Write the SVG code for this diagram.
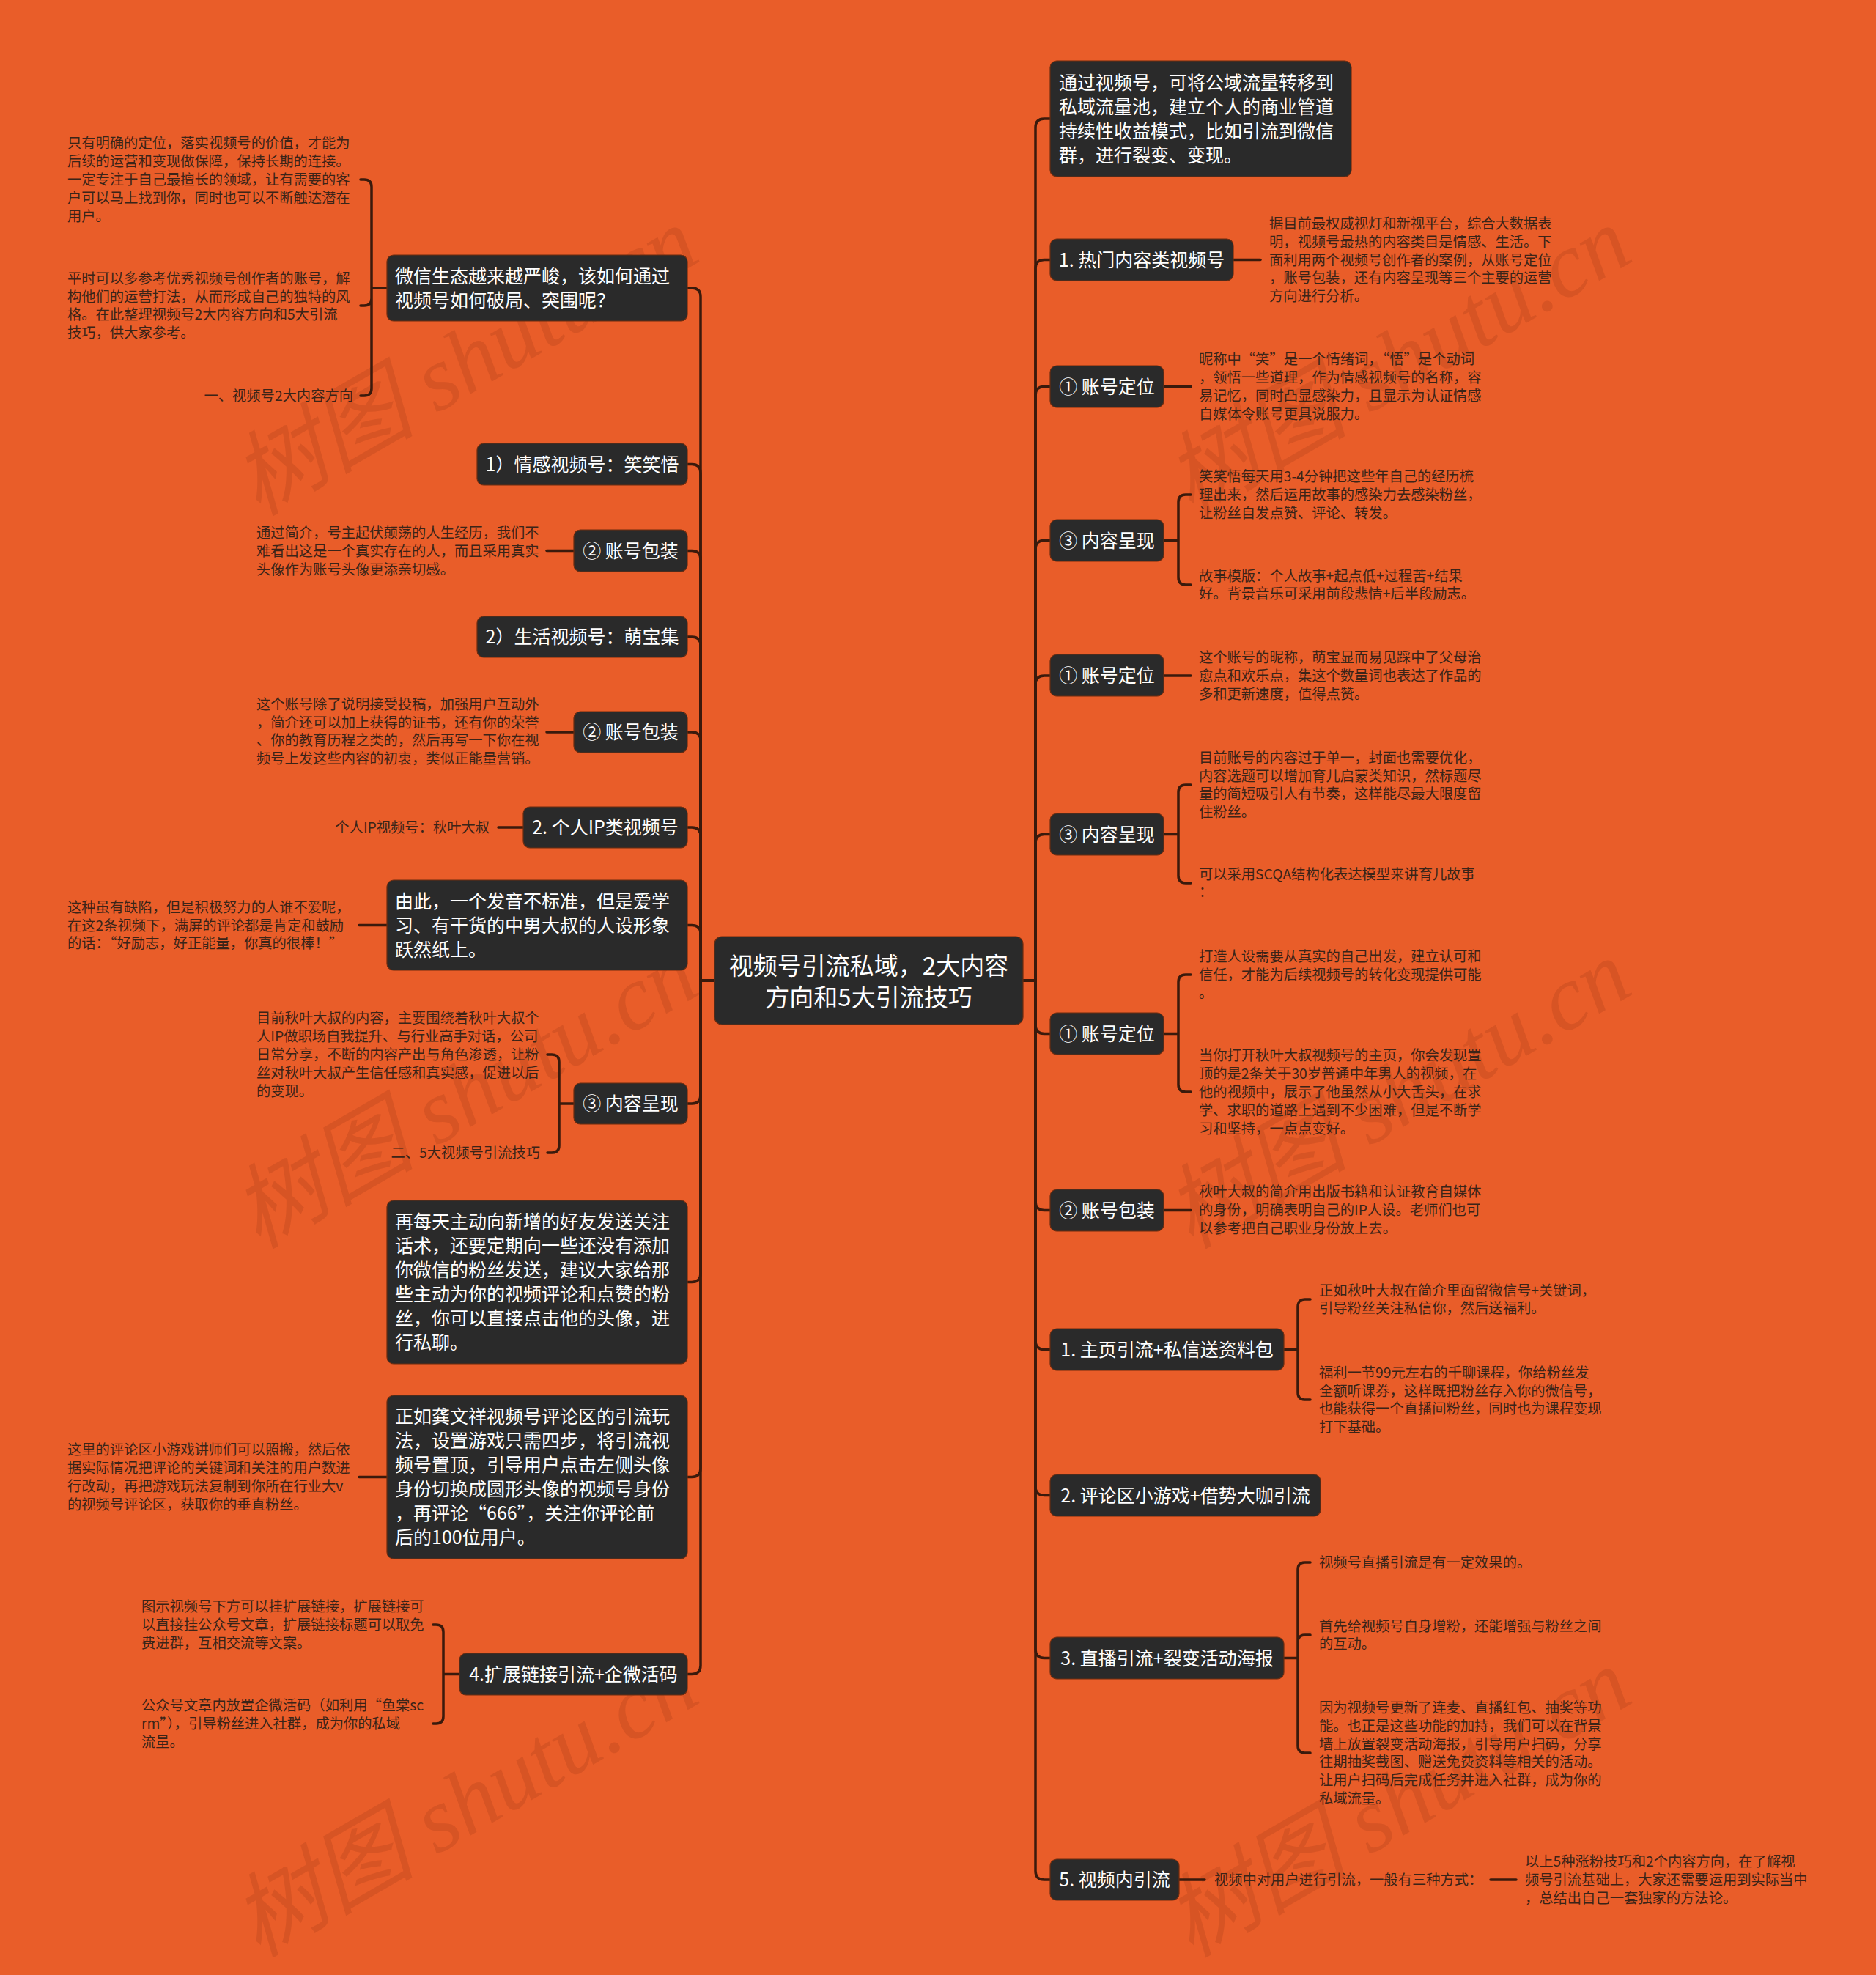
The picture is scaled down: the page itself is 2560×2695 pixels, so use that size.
<svg xmlns="http://www.w3.org/2000/svg" width="2560" height="2695" viewBox="0 0 2560 2695">
<style>
text{font-family:"Noto Sans CJK SC","Noto Sans",sans-serif}
.bg{fill:#E95D29}
.nd{fill:#2A2A2A;stroke:#6B2C10;stroke-width:1.2}
.nt{fill:#FFFFFF;font-size:25px}
.nc{text-anchor:middle}
.ct{fill:#FFFFFF;font-size:33px;text-anchor:middle}
.lt{fill:#3B2418;font-size:19.3px}
.le{text-anchor:end}
.cn{fill:none;stroke:#3A1A0C;stroke-width:3.5;stroke-linecap:round}
.wm{font-family:"Liberation Serif","Noto Sans CJK SC",serif;font-style:italic;font-size:125px;fill:#A83E18;fill-opacity:0.28}
</style>
<rect class="bg" x="0" y="0" width="2560" height="2695"/>
<g id="watermarks">
<text class="wm" transform="translate(352,705) rotate(-30)">树图 shutu.cn</text>
<text class="wm" transform="translate(1625,705) rotate(-30)">树图 shutu.cn</text>
<text class="wm" transform="translate(352,1705) rotate(-30)">树图 shutu.cn</text>
<text class="wm" transform="translate(1625,1705) rotate(-30)">树图 shutu.cn</text>
<text class="wm" transform="translate(352,2672) rotate(-30)">树图 shutu.cn</text>
<text class="wm" transform="translate(1625,2672) rotate(-30)">树图 shutu.cn</text>
</g>
<g id="connectors" class="cn">
<path d="M975,1338 H956 V405 Q956,393 944,393 H938"/>
<path d="M975,1338 H956 V645.5 Q956,633.5 944,633.5 H938"/>
<path d="M975,1338 H956 V763.5 Q956,751.5 944,751.5 H938"/>
<path d="M975,1338 H956 V881 Q956,869 944,869 H938"/>
<path d="M975,1338 H956 V1011 Q956,999 944,999 H938"/>
<path d="M975,1338 H956 V1141 Q956,1129 944,1129 H938"/>
<path d="M975,1338 H956 V1274.5 Q956,1262.5 944,1262.5 H938"/>
<path d="M975,1338 H956 V1494 Q956,1506 944,1506 H938"/>
<path d="M975,1338 H956 V1737.5 Q956,1749.5 944,1749.5 H938"/>
<path d="M975,1338 H956 V2003.5 Q956,2015.5 944,2015.5 H938"/>
<path d="M975,1338 H956 V2272.5 Q956,2284.5 944,2284.5 H938"/>
<path d="M1396,1338 H1413 V174 Q1413,162 1425,162 H1433"/>
<path d="M1396,1338 H1413 V366.5 Q1413,354.5 1425,354.5 H1433"/>
<path d="M1396,1338 H1413 V539.5 Q1413,527.5 1425,527.5 H1433"/>
<path d="M1396,1338 H1413 V749.5 Q1413,737.5 1425,737.5 H1433"/>
<path d="M1396,1338 H1413 V934 Q1413,922 1425,922 H1433"/>
<path d="M1396,1338 H1413 V1150.5 Q1413,1138.5 1425,1138.5 H1433"/>
<path d="M1396,1338 H1413 V1398.5 Q1413,1410.5 1425,1410.5 H1433"/>
<path d="M1396,1338 H1413 V1639.5 Q1413,1651.5 1425,1651.5 H1433"/>
<path d="M1396,1338 H1413 V1829.5 Q1413,1841.5 1425,1841.5 H1433"/>
<path d="M1396,1338 H1413 V2028.5 Q1413,2040.5 1425,2040.5 H1433"/>
<path d="M1396,1338 H1413 V2250.5 Q1413,2262.5 1425,2262.5 H1433"/>
<path d="M1396,1338 H1413 V2553 Q1413,2565 1425,2565 H1433"/>
<path d="M528,393 H507 M507,393 V255 Q507,245 497,245 H492 M507,393 V407 Q507,417 497,417 H492 M507,393 V530 Q507,540 497,540 H492"/>
<path d="M783,1506 H763 M763,1506 V1449 Q763,1439 753,1439 H747 M763,1506 V1563 Q763,1573 753,1573 H747"/>
<path d="M627,2284.5 H605 M605,2284.5 V2227 Q605,2217 595,2217 H591 M605,2284.5 V2342 Q605,2352 595,2352 H591"/>
<path d="M1588,737.5 H1608 M1608,737.5 V685 Q1608,675 1618,675 H1625 M1608,737.5 V788 Q1608,798 1618,798 H1625"/>
<path d="M1588,1138.5 H1608 M1608,1138.5 V1081 Q1608,1071 1618,1071 H1625 M1608,1138.5 V1195 Q1608,1205 1618,1205 H1625"/>
<path d="M1588,1410.5 H1608 M1608,1410.5 V1340 Q1608,1330 1618,1330 H1625 M1608,1410.5 V1480 Q1608,1490 1618,1490 H1625"/>
<path d="M1752,1841.5 H1771 M1771,1841.5 V1783 Q1771,1773 1781,1773 H1788 M1771,1841.5 V1900 Q1771,1910 1781,1910 H1788"/>
<path d="M1752,2262.5 H1771 M1771,2262.5 V2142 Q1771,2132 1781,2132 H1788 M1771,2262.5 V2241 Q1771,2231 1781,2231 H1788 M1771,2262.5 V2382 Q1771,2392 1781,2392 H1788"/>
<path d="M783,751.5 H746"/>
<path d="M783,999 H746"/>
<path d="M714,1129 H680"/>
<path d="M528,1262.5 H490"/>
<path d="M528,2015.5 H490"/>
<path d="M1683,354.5 H1720"/>
<path d="M1588,527.5 H1625"/>
<path d="M1588,922 H1625"/>
<path d="M1588,1651.5 H1625"/>
<path d="M1609,2565 H1644"/>
<path d="M2034,2565 H2069"/>
</g>
<g id="center">
<rect class="nd" x="975" y="1278" width="421" height="120" rx="10"/>
<text class="ct"><tspan x="1185.5" y="1330">视频号引流私域，2大内容</tspan><tspan x="1185.5" y="1373">方向和5大引流技巧</tspan></text>
</g>
<g id="n-l1">
<rect class="nd" x="528" y="348" width="410" height="90" rx="9"/>
<text class="nt"><tspan x="539" y="385.5">微信生态越来越严峻，该如何通过</tspan><tspan x="539" y="418.5">视频号如何破局、突围呢？</tspan></text>
</g>
<g id="leaf-l1a"><text class="lt"><tspan x="92" y="202.4">只有明确的定位，落实视频号的价值，才能为</tspan><tspan x="92" y="227.2">后续的运营和变现做保障，保持长期的连接。</tspan><tspan x="92" y="252">一定专注于自己最擅长的领域，让有需要的客</tspan><tspan x="92" y="276.8">户可以马上找到你，同时也可以不断触达潜在</tspan><tspan x="92" y="301.6">用户。</tspan></text></g>
<g id="leaf-l1b"><text class="lt"><tspan x="92" y="386.8">平时可以多参考优秀视频号创作者的账号，解</tspan><tspan x="92" y="411.6">构他们的运营打法，从而形成自己的独特的风</tspan><tspan x="92" y="436.4">格。在此整理视频号2大内容方向和5大引流</tspan><tspan x="92" y="461.2">技巧，供大家参考。</tspan></text></g>
<g id="leaf-l1c"><text class="lt le" x="482" y="547">一、视频号2大内容方向</text></g>
<g id="n-l2">
<rect class="nd" x="651" y="605" width="287" height="57" rx="9"/>
<text class="nt nc" x="794.5" y="642.5">1）情感视频号：笑笑悟</text>
</g>
<g id="n-l3">
<rect class="nd" x="783" y="723" width="155" height="57" rx="9"/>
<text class="nt nc" x="860.5" y="760.5">② 账号包装</text>
</g>
<g id="leaf-l3"><text class="lt"><tspan x="350" y="734.2">通过简介，号主起伏颠荡的人生经历，我们不</tspan><tspan x="350" y="759">难看出这是一个真实存在的人，而且采用真实</tspan><tspan x="350" y="783.8">头像作为账号头像更添亲切感。</tspan></text></g>
<g id="n-l4">
<rect class="nd" x="651" y="841" width="287" height="56" rx="9"/>
<text class="nt nc" x="794.5" y="878">2）生活视频号：萌宝集</text>
</g>
<g id="n-l5">
<rect class="nd" x="783" y="971" width="155" height="56" rx="9"/>
<text class="nt nc" x="860.5" y="1008">② 账号包装</text>
</g>
<g id="leaf-l5"><text class="lt"><tspan x="350" y="967.8">这个账号除了说明接受投稿，加强用户互动外</tspan><tspan x="350" y="992.6">，简介还可以加上获得的证书，还有你的荣誉</tspan><tspan x="350" y="1017.4">、你的教育历程之类的，然后再写一下你在视</tspan><tspan x="350" y="1042.2">频号上发这些内容的初衷，类似正能量营销。</tspan></text></g>
<g id="n-l6">
<rect class="nd" x="714" y="1101" width="224" height="56" rx="9"/>
<text class="nt nc" x="826" y="1138">2. 个人IP类视频号</text>
</g>
<g id="leaf-l6"><text class="lt le" x="668" y="1136">个人IP视频号：秋叶大叔</text></g>
<g id="n-l7">
<rect class="nd" x="528" y="1201" width="410" height="123" rx="9"/>
<text class="nt"><tspan x="539" y="1238.5">由此，一个发音不标准，但是爱学</tspan><tspan x="539" y="1271.5">习、有干货的中男大叔的人设形象</tspan><tspan x="539" y="1304.5">跃然纸上。</tspan></text>
</g>
<g id="leaf-l7"><text class="lt"><tspan x="92" y="1244.7">这种虽有缺陷，但是积极努力的人谁不爱呢，</tspan><tspan x="92" y="1269.5">在这2条视频下，满屏的评论都是肯定和鼓励</tspan><tspan x="92" y="1294.3">的话：“好励志，好正能量，你真的很棒！”</tspan></text></g>
<g id="n-l8">
<rect class="nd" x="783" y="1478" width="155" height="56" rx="9"/>
<text class="nt nc" x="860.5" y="1515">③ 内容呈现</text>
</g>
<g id="leaf-l8a"><text class="lt"><tspan x="350" y="1396.4">目前秋叶大叔的内容，主要围绕着秋叶大叔个</tspan><tspan x="350" y="1421.2">人IP做职场自我提升、与行业高手对话，公司</tspan><tspan x="350" y="1446">日常分享，不断的内容产出与角色渗透，让粉</tspan><tspan x="350" y="1470.8">丝对秋叶大叔产生信任感和真实感，促进以后</tspan><tspan x="350" y="1495.6">的变现。</tspan></text></g>
<g id="leaf-l8b"><text class="lt le" x="737" y="1580">二、5大视频号引流技巧</text></g>
<g id="n-l9">
<rect class="nd" x="528" y="1638" width="410" height="223" rx="9"/>
<text class="nt"><tspan x="539" y="1676">再每天主动向新增的好友发送关注</tspan><tspan x="539" y="1709">话术，还要定期向一些还没有添加</tspan><tspan x="539" y="1742">你微信的粉丝发送，建议大家给那</tspan><tspan x="539" y="1775">些主动为你的视频评论和点赞的粉</tspan><tspan x="539" y="1808">丝，你可以直接点击他的头像，进</tspan><tspan x="539" y="1841">行私聊。</tspan></text>
</g>
<g id="n-l10">
<rect class="nd" x="528" y="1904" width="410" height="223" rx="9"/>
<text class="nt"><tspan x="539" y="1942">正如龚文祥视频号评论区的引流玩</tspan><tspan x="539" y="1975">法，设置游戏只需四步，将引流视</tspan><tspan x="539" y="2008">频号置顶，引导用户点击左侧头像</tspan><tspan x="539" y="2041">身份切换成圆形头像的视频号身份</tspan><tspan x="539" y="2074">，再评论“666”，关注你评论前</tspan><tspan x="539" y="2107">后的100位用户。</tspan></text>
</g>
<g id="leaf-l10"><text class="lt"><tspan x="92" y="1985.3">这里的评论区小游戏讲师们可以照搬，然后依</tspan><tspan x="92" y="2010.1">据实际情况把评论的关键词和关注的用户数进</tspan><tspan x="92" y="2034.9">行改动，再把游戏玩法复制到你所在行业大v</tspan><tspan x="92" y="2059.7">的视频号评论区，获取你的垂直粉丝。</tspan></text></g>
<g id="n-l11">
<rect class="nd" x="627" y="2256" width="311" height="57" rx="9"/>
<text class="nt nc" x="782.5" y="2293.5">4.扩展链接引流+企微活码</text>
</g>
<g id="leaf-l11a"><text class="lt"><tspan x="193" y="2199.2">图示视频号下方可以挂扩展链接，扩展链接可</tspan><tspan x="193" y="2224">以直接挂公众号文章，扩展链接标题可以取免</tspan><tspan x="193" y="2248.8">费进群，互相交流等文案。</tspan></text></g>
<g id="leaf-l11b"><text class="lt"><tspan x="193" y="2334.2">公众号文章内放置企微活码（如利用“鱼棠sc</tspan><tspan x="193" y="2359">rm”），引导粉丝进入社群，成为你的私域</tspan><tspan x="193" y="2383.8">流量。</tspan></text></g>
<g id="n-r1">
<rect class="nd" x="1433" y="83" width="411" height="158" rx="9"/>
<text class="nt"><tspan x="1445" y="121.5">通过视频号，可将公域流量转移到</tspan><tspan x="1445" y="154.5">私域流量池，建立个人的商业管道</tspan><tspan x="1445" y="187.5">持续性收益模式，比如引流到微信</tspan><tspan x="1445" y="220.5">群，进行裂变、变现。</tspan></text>
</g>
<g id="n-r2">
<rect class="nd" x="1433" y="326" width="250" height="57" rx="9"/>
<text class="nt nc" x="1558" y="363.5">1. 热门内容类视频号</text>
</g>
<g id="leaf-r2"><text class="lt"><tspan x="1732" y="311.9">据目前最权威视灯和新视平台，综合大数据表</tspan><tspan x="1732" y="336.7">明，视频号最热的内容类目是情感、生活。下</tspan><tspan x="1732" y="361.5">面利用两个视频号创作者的案例，从账号定位</tspan><tspan x="1732" y="386.3">，账号包装，还有内容呈现等三个主要的运营</tspan><tspan x="1732" y="411.1">方向进行分析。</tspan></text></g>
<g id="n-r3">
<rect class="nd" x="1433" y="499" width="155" height="57" rx="9"/>
<text class="nt nc" x="1510.5" y="536.5">① 账号定位</text>
</g>
<g id="leaf-r3"><text class="lt"><tspan x="1636" y="497.3">昵称中“笑”是一个情绪词，“悟”是个动词</tspan><tspan x="1636" y="522.1">，领悟一些道理，作为情感视频号的名称，容</tspan><tspan x="1636" y="546.9">易记忆，同时凸显感染力，且显示为认证情感</tspan><tspan x="1636" y="571.7">自媒体令账号更具说服力。</tspan></text></g>
<g id="n-r4">
<rect class="nd" x="1433" y="709" width="155" height="57" rx="9"/>
<text class="nt nc" x="1510.5" y="746.5">③ 内容呈现</text>
</g>
<g id="leaf-r4a"><text class="lt"><tspan x="1636" y="657.2">笑笑悟每天用3-4分钟把这些年自己的经历梳</tspan><tspan x="1636" y="682">理出来，然后运用故事的感染力去感染粉丝，</tspan><tspan x="1636" y="706.8">让粉丝自发点赞、评论、转发。</tspan></text></g>
<g id="leaf-r4b"><text class="lt"><tspan x="1636" y="792.6">故事模版：个人故事+起点低+过程苦+结果</tspan><tspan x="1636" y="817.4">好。背景音乐可采用前段悲情+后半段励志。</tspan></text></g>
<g id="n-r5">
<rect class="nd" x="1433" y="893" width="155" height="57" rx="9"/>
<text class="nt nc" x="1510.5" y="930.5">① 账号定位</text>
</g>
<g id="leaf-r5"><text class="lt"><tspan x="1636" y="904.2">这个账号的昵称，萌宝显而易见踩中了父母治</tspan><tspan x="1636" y="929">愈点和欢乐点，集这个数量词也表达了作品的</tspan><tspan x="1636" y="953.8">多和更新速度，值得点赞。</tspan></text></g>
<g id="n-r6">
<rect class="nd" x="1433" y="1110" width="155" height="57" rx="9"/>
<text class="nt nc" x="1510.5" y="1147.5">③ 内容呈现</text>
</g>
<g id="leaf-r6a"><text class="lt"><tspan x="1636" y="1040.8">目前账号的内容过于单一，封面也需要优化，</tspan><tspan x="1636" y="1065.6">内容选题可以增加育儿启蒙类知识，然标题尽</tspan><tspan x="1636" y="1090.4">量的简短吸引人有节奏，这样能尽最大限度留</tspan><tspan x="1636" y="1115.2">住粉丝。</tspan></text></g>
<g id="leaf-r6b"><text class="lt"><tspan x="1636" y="1199.6">可以采用SCQA结构化表达模型来讲育儿故事</tspan><tspan x="1636" y="1224.4">：</tspan></text></g>
<g id="n-r7">
<rect class="nd" x="1433" y="1382" width="155" height="57" rx="9"/>
<text class="nt nc" x="1510.5" y="1419.5">① 账号定位</text>
</g>
<g id="leaf-r7a"><text class="lt"><tspan x="1636" y="1312.2">打造人设需要从真实的自己出发，建立认可和</tspan><tspan x="1636" y="1337">信任，才能为后续视频号的转化变现提供可能</tspan><tspan x="1636" y="1361.8">。</tspan></text></g>
<g id="leaf-r7b"><text class="lt"><tspan x="1636" y="1447.4">当你打开秋叶大叔视频号的主页，你会发现置</tspan><tspan x="1636" y="1472.2">顶的是2条关于30岁普通中年男人的视频，在</tspan><tspan x="1636" y="1497">他的视频中，展示了他虽然从小大舌头，在求</tspan><tspan x="1636" y="1521.8">学、求职的道路上遇到不少困难，但是不断学</tspan><tspan x="1636" y="1546.6">习和坚持，一点点变好。</tspan></text></g>
<g id="n-r8">
<rect class="nd" x="1433" y="1623" width="155" height="57" rx="9"/>
<text class="nt nc" x="1510.5" y="1660.5">② 账号包装</text>
</g>
<g id="leaf-r8"><text class="lt"><tspan x="1636" y="1633.2">秋叶大叔的简介用出版书籍和认证教育自媒体</tspan><tspan x="1636" y="1658">的身份，明确表明自己的IP人设。老师们也可</tspan><tspan x="1636" y="1682.8">以参考把自己职业身份放上去。</tspan></text></g>
<g id="n-r9">
<rect class="nd" x="1433" y="1813" width="319" height="57" rx="9"/>
<text class="nt nc" x="1592.5" y="1850.5">1. 主页引流+私信送资料包</text>
</g>
<g id="leaf-r9a"><text class="lt"><tspan x="1800" y="1767.6">正如秋叶大叔在简介里面留微信号+关键词，</tspan><tspan x="1800" y="1792.4">引导粉丝关注私信你，然后送福利。</tspan></text></g>
<g id="leaf-r9b"><text class="lt"><tspan x="1800" y="1879.8">福利一节99元左右的千聊课程，你给粉丝发</tspan><tspan x="1800" y="1904.6">全额听课券，这样既把粉丝存入你的微信号，</tspan><tspan x="1800" y="1929.4">也能获得一个直播间粉丝，同时也为课程变现</tspan><tspan x="1800" y="1954.2">打下基础。</tspan></text></g>
<g id="n-r10">
<rect class="nd" x="1433" y="2012" width="369" height="57" rx="9"/>
<text class="nt nc" x="1617.5" y="2049.5">2. 评论区小游戏+借势大咖引流</text>
</g>
<g id="n-r11">
<rect class="nd" x="1433" y="2234" width="319" height="57" rx="9"/>
<text class="nt nc" x="1592.5" y="2271.5">3. 直播引流+裂变活动海报</text>
</g>
<g id="leaf-r11a"><text class="lt" x="1800" y="2139">视频号直播引流是有一定效果的。</text></g>
<g id="leaf-r11b"><text class="lt"><tspan x="1800" y="2225.6">首先给视频号自身增粉，还能增强与粉丝之间</tspan><tspan x="1800" y="2250.4">的互动。</tspan></text></g>
<g id="leaf-r11c"><text class="lt"><tspan x="1800" y="2337">因为视频号更新了连麦、直播红包、抽奖等功</tspan><tspan x="1800" y="2361.8">能。也正是这些功能的加持，我们可以在背景</tspan><tspan x="1800" y="2386.6">墙上放置裂变活动海报，引导用户扫码，分享</tspan><tspan x="1800" y="2411.4">往期抽奖截图、赠送免费资料等相关的活动。</tspan><tspan x="1800" y="2436.2">让用户扫码后完成任务并进入社群，成为你的</tspan><tspan x="1800" y="2461">私域流量。</tspan></text></g>
<g id="n-r12">
<rect class="nd" x="1433" y="2537" width="176" height="56" rx="9"/>
<text class="nt nc" x="1521" y="2574">5. 视频内引流</text>
</g>
<g id="leaf-r12"><text class="lt" x="1657" y="2572">视频中对用户进行引流，一般有三种方式：</text></g>
<g id="leaf-r12b"><text class="lt"><tspan x="2081" y="2547.2">以上5种涨粉技巧和2个内容方向，在了解视</tspan><tspan x="2081" y="2572">频号引流基础上，大家还需要运用到实际当中</tspan><tspan x="2081" y="2596.8">，总结出自己一套独家的方法论。</tspan></text></g>
</svg>
